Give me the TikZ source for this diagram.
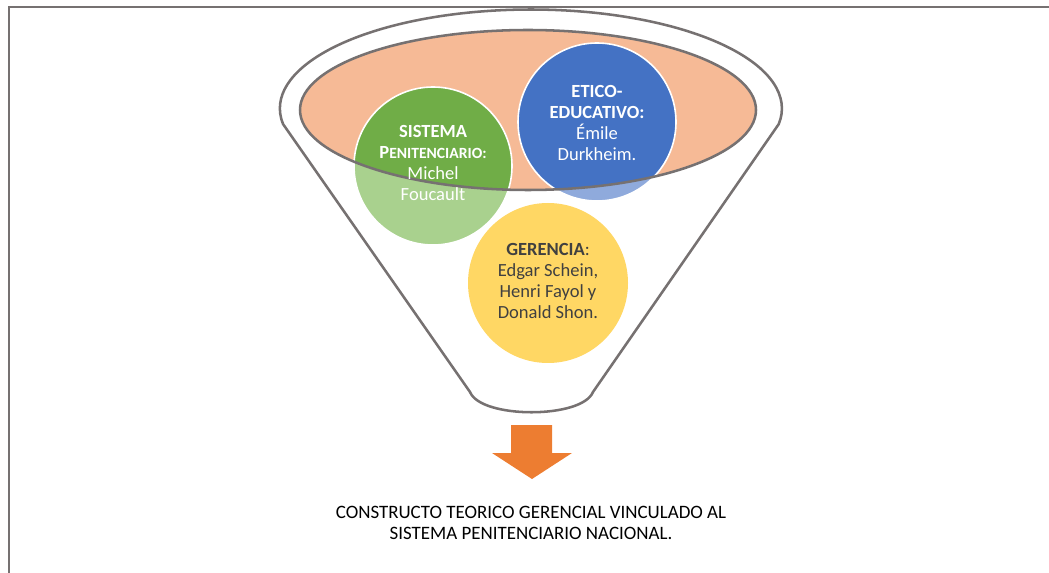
\documentclass[tikz,border=0pt]{standalone}
\usepackage{fontspec}
\setmainfont{Carlito}
\definecolor{lineGray}{RGB}{118,113,113}
\definecolor{peach}{RGB}{246,186,150}
\definecolor{greenDark}{RGB}{112,173,71}
\definecolor{greenLight}{RGB}{169,209,142}
\definecolor{blueDark}{RGB}{68,114,196}
\definecolor{blueLight}{RGB}{143,170,220}
\definecolor{yellowLight}{RGB}{255,215,100}
\definecolor{arrowOrange}{RGB}{237,125,49}
\definecolor{textGray}{RGB}{64,64,64}
\begin{document}
\begin{tikzpicture}[x=0.75pt,y=-0.75pt,
  frameline/.style={draw=lineGray,line width=2pt},
  funnelline/.style={draw=lineGray,line width=1.9pt,line join=round},
  circborder/.style={draw=white,line width=1.2pt},
  txt/.style={align=center,inner sep=0pt,font=\fontsize{13.9}{15.75}\selectfont}]
\useasboundingbox (0,0) rectangle (1049,573);
% frame
\coordinate (ftr) at (1049,7);
\coordinate (ftl) at (9,7);
\coordinate (fbl) at (9,573);
\draw[frameline] (ftr) -- (ftl) -- (fbl);
% funnel body
\path[funnelline,fill=white] (283,124) arc[start angle=171,end angle=369,x radius=251,y radius=99]
  -- (593,392) .. controls (582,419) and (481,419) .. (470,392) -- cycle;
% inner ellipse fill
\fill[peach] (528,110) ellipse[x radius=228,y radius=80];
% circles: light full, dark inside ellipse
\fill[greenLight] (433,166) circle[radius=79];
\fill[blueLight] (597,122) circle[radius=79];
\fill[yellowLight] (548,283) circle[radius=80];
\begin{scope}
  \clip (528,110) ellipse[x radius=228,y radius=80];
  \fill[greenDark] (433,166) circle[radius=79];
  \fill[blueDark] (597,122) circle[radius=79];
\end{scope}
\draw[circborder] (433,166) circle[radius=79];
\draw[circborder] (597,122) circle[radius=79];
% inner ellipse outline
\draw[funnelline] (528,110) ellipse[x radius=228,y radius=80];
% texts
\node[txt,text=white] (sis) at (433,163) {\textbf{SISTEMA}\\\textbf{P{\fontsize{11.7}{15.75}\selectfont ENITENCIARIO:}}\\Michel\\Foucault};
\node[txt,text=white] (eti) at (597,123) {\textbf{ETICO-}\\\textbf{EDUCATIVO:}\\Émile\\Durkheim.};
\node[txt,text=textGray] (ger) at (548,281) {\textbf{GERENCIA}:\\Edgar Schein,\\Henri Fayol y\\Donald Shon.};
% arrow
\fill[arrowOrange] (511,425) -- (552,425) -- (552,453) -- (572,453) -- (532,479) -- (492,453) -- (511,453) -- cycle;
\node[txt,text=black,font=\fontsize{14.2}{15.75}\selectfont] (res) at (531,523) {CONSTRUCTO TEORICO GERENCIAL VINCULADO AL\\SISTEMA PENITENCIARIO NACIONAL.};
\end{tikzpicture}
\end{document}
